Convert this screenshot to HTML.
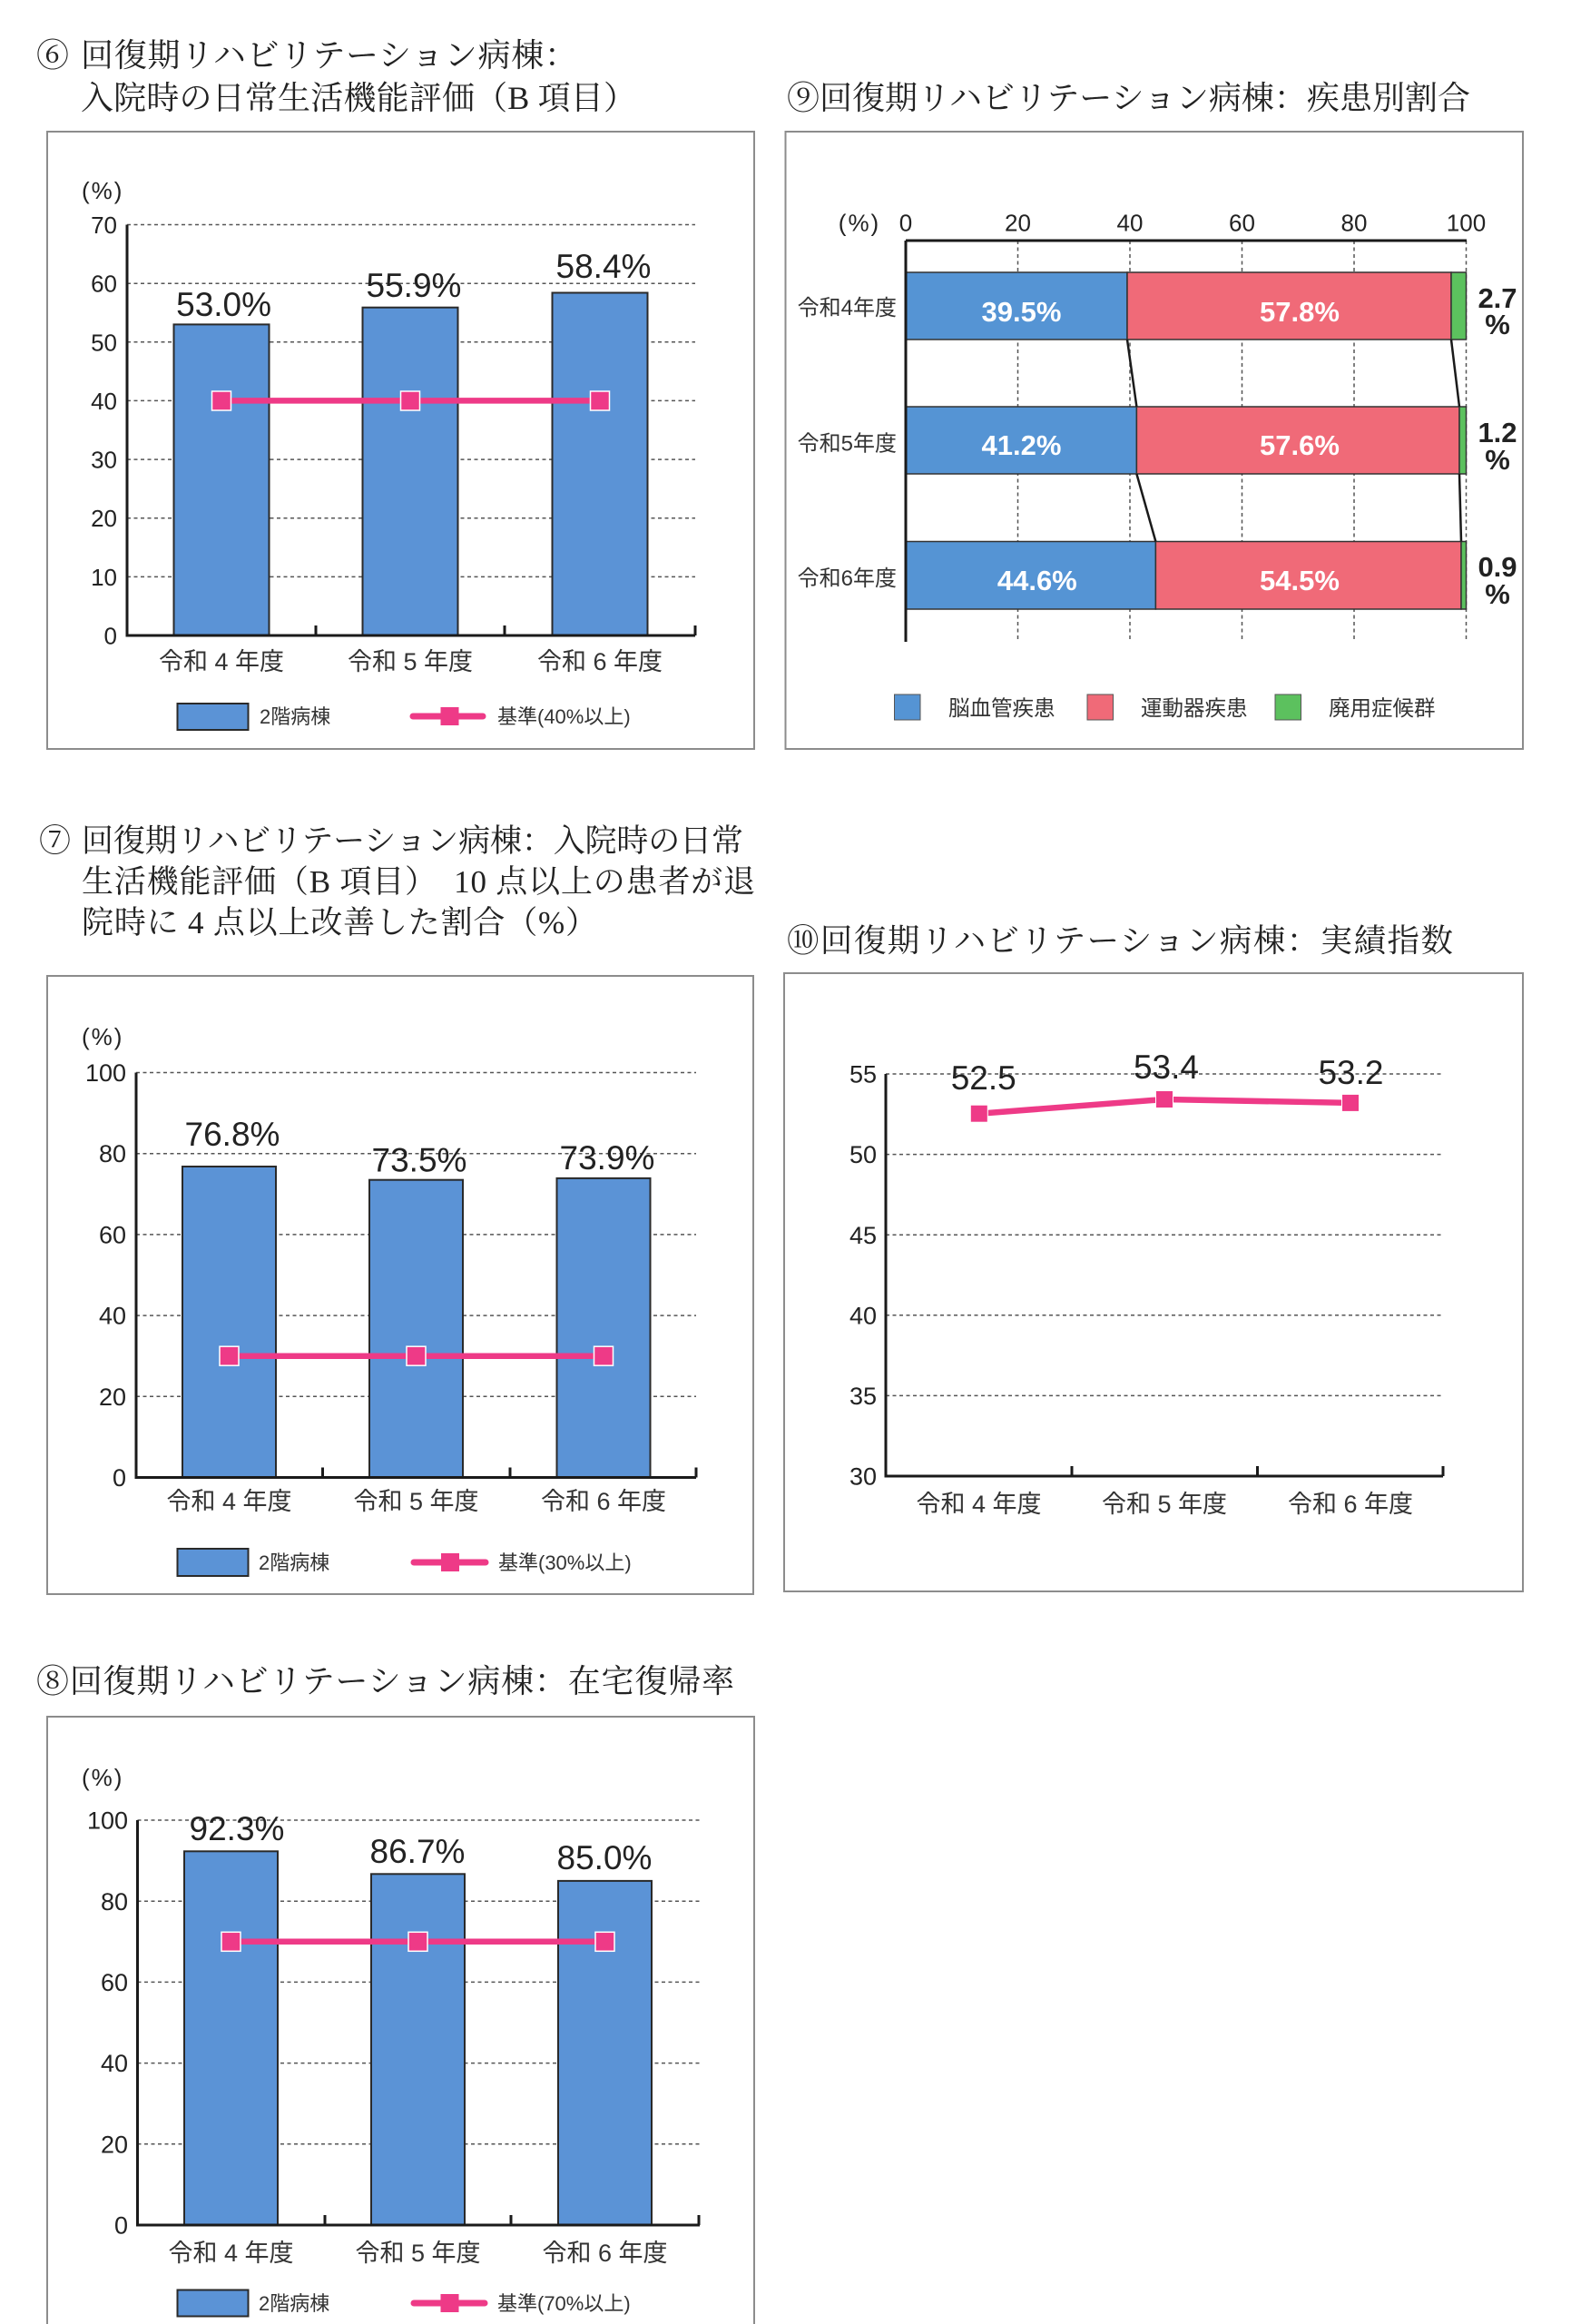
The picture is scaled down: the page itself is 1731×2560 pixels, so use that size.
<!DOCTYPE html>
<html><head><meta charset="utf-8"><style>
html,body{margin:0;padding:0;background:#fff;}
svg{display:block;}
.t{font-family:"Liberation Serif","Noto Serif CJK SC",serif;fill:#222;}
.n{font-family:"Liberation Sans","Noto Sans CJK JP",sans-serif;fill:#222;}
.j{font-family:"Liberation Sans","Noto Sans CJK JP",sans-serif;fill:#333;}
.w{font-family:"Liberation Sans",sans-serif;font-weight:bold;fill:#fff;}
.b{font-family:"Liberation Sans",sans-serif;font-weight:bold;fill:#222;}
.g{stroke:#555;stroke-width:1.5;stroke-dasharray:4 3.5;fill:none;}
.bar{fill:#5b93d6;stroke:#2a2a2a;stroke-width:2;}
.ax{stroke:#1a1a1a;stroke-width:3;fill:none;}
.pk{stroke:#ee3a87;stroke-width:6.5;fill:none;}
.mk{fill:#ee3a87;stroke:#fff;stroke-width:1.5;}
.fr{fill:none;stroke:#8c8c8c;stroke-width:2;}
</style></head><body>
<svg width="1731" height="2560" viewBox="0 0 1731 2560" xmlns="http://www.w3.org/2000/svg">

<!-- ================= Chart 6 ================= -->
<text class="t" x="40" y="73" font-size="36">⑥</text>
<text class="t" x="89" y="73" font-size="36" textLength="547" lengthAdjust="spacing">回復期リハビリテーション病棟：</text>
<text class="t" x="89" y="120" font-size="36" textLength="612" lengthAdjust="spacing">入院時の日常生活機能評価（B 項目）</text>
<rect class="fr" x="52" y="145" width="779" height="680"/>
<text class="n" x="90" y="219" font-size="26" letter-spacing="2">(%)</text>
<g>
<line class="g" x1="140" y1="635.4" x2="766" y2="635.4"/>
<line class="g" x1="140" y1="570.7" x2="766" y2="570.7"/>
<line class="g" x1="140" y1="506.1" x2="766" y2="506.1"/>
<line class="g" x1="140" y1="441.4" x2="766" y2="441.4"/>
<line class="g" x1="140" y1="376.8" x2="766" y2="376.8"/>
<line class="g" x1="140" y1="312.2" x2="766" y2="312.2"/>
<line class="g" x1="140" y1="247.5" x2="766" y2="247.5"/>
</g>
<g class="n" font-size="26" text-anchor="end">
<text x="129" y="709.5">0</text>
<text x="129" y="645">10</text>
<text x="129" y="580">20</text>
<text x="129" y="515.5">30</text>
<text x="129" y="451">40</text>
<text x="129" y="386.5">50</text>
<text x="129" y="321.5">60</text>
<text x="129" y="257">70</text>
</g>
<rect class="bar" x="191.5" y="357.4" width="105" height="342.6"/>
<rect class="bar" x="399.5" y="338.7" width="105" height="361.3"/>
<rect class="bar" x="608.5" y="322.5" width="105" height="377.5"/>
<path class="ax" d="M140 247.5 V700 H766 M348 700 V689 M556 700 V689 M766 700 V689"/>
<polyline class="pk" points="244,441.4 452,441.4 661,441.4"/>
<rect class="mk" x="233.5" y="431" width="21" height="21"/>
<rect class="mk" x="441.5" y="431" width="21" height="21"/>
<rect class="mk" x="650.5" y="431" width="21" height="21"/>
<g class="n" font-size="37" text-anchor="middle">
<text x="246.6" y="348">53.0%</text>
<text x="456" y="327">55.9%</text>
<text x="665" y="306">58.4%</text>
</g>
<g class="j" font-size="27" text-anchor="middle">
<text x="244" y="738">令和 4 年度</text>
<text x="452" y="738">令和 5 年度</text>
<text x="661" y="738">令和 6 年度</text>
</g>
<rect class="bar" x="195.5" y="775" width="78" height="29"/>
<text class="j" x="286" y="797" font-size="22">2階病棟</text>
<line x1="455" y1="789" x2="532" y2="789" stroke="#ee3a87" stroke-width="7" stroke-linecap="round"/>
<rect x="485.5" y="779" width="20" height="20" fill="#ee3a87"/>
<text class="j" x="548" y="797" font-size="22">基準(40%以上)</text>

<!-- ================= Chart 9 ================= -->
<text class="t" x="867" y="120" font-size="36" textLength="753" lengthAdjust="spacing">⑨回復期リハビリテーション病棟：疾患別割合</text>
<rect class="fr" x="865.5" y="145" width="812.5" height="680"/>
<g class="n" font-size="26" text-anchor="middle">
<text x="947" y="254.5" letter-spacing="2">(%)</text>
<text x="998" y="254.5">0</text>
<text x="1121.5" y="254.5">20</text>
<text x="1245" y="254.5">40</text>
<text x="1368.5" y="254.5">60</text>
<text x="1492" y="254.5">80</text>
<text x="1615.5" y="254.5">100</text>
</g>
<g>
<line class="g" x1="1121.5" y1="265" x2="1121.5" y2="707"/>
<line class="g" x1="1245" y1="265" x2="1245" y2="707"/>
<line class="g" x1="1368.5" y1="265" x2="1368.5" y2="707"/>
<line class="g" x1="1492" y1="265" x2="1492" y2="707"/>
<line class="g" x1="1615.5" y1="265" x2="1615.5" y2="707"/>
</g>
<g stroke="#333" stroke-width="1.5">
<rect x="998" y="300" width="244" height="74" fill="#5594d4"/>
<rect x="1242" y="300" width="357" height="74" fill="#f06a78"/>
<rect x="1599" y="300" width="16.5" height="74" fill="#5cc15e"/>
<rect x="998" y="448" width="254.4" height="74" fill="#5594d4"/>
<rect x="1252.4" y="448" width="355.6" height="74" fill="#f06a78"/>
<rect x="1608" y="448" width="7.5" height="74" fill="#5cc15e"/>
<rect x="998" y="596.5" width="275.4" height="74.5" fill="#5594d4"/>
<rect x="1273.4" y="596.5" width="336.6" height="74.5" fill="#f06a78"/>
<rect x="1610" y="596.5" width="5.5" height="74.5" fill="#5cc15e"/>
</g>
<path class="ax" d="M998 265 H1616 M998 265 V707"/>
<g stroke="#1a1a1a" stroke-width="2.5">
<line x1="1242" y1="374" x2="1252.4" y2="448"/>
<line x1="1599" y1="374" x2="1608" y2="448"/>
<line x1="1252.4" y1="522" x2="1273.4" y2="596.5"/>
<line x1="1608" y1="522" x2="1610" y2="596.5"/>
</g>
<g class="w" font-size="31" text-anchor="middle">
<text x="1125.5" y="354">39.5%</text>
<text x="1432" y="354">57.8%</text>
<text x="1125.5" y="501">41.2%</text>
<text x="1432" y="501">57.6%</text>
<text x="1142.8" y="650">44.6%</text>
<text x="1432" y="650">54.5%</text>
</g>
<g class="b" font-size="31" text-anchor="middle">
<text x="1650" y="339">2.7</text>
<text x="1650" y="368">%</text>
<text x="1650" y="487">1.2</text>
<text x="1650" y="517">%</text>
<text x="1650" y="635">0.9</text>
<text x="1650" y="665">%</text>
</g>
<g class="j" font-size="24" text-anchor="end">
<text x="988" y="347">令和4年度</text>
<text x="988" y="496.5">令和5年度</text>
<text x="988" y="645">令和6年度</text>
</g>
<rect x="985.5" y="765" width="28.5" height="28" fill="#5594d4" stroke="#555" stroke-width="1"/>
<rect x="1198" y="765" width="28.5" height="28" fill="#f06a78" stroke="#555" stroke-width="1"/>
<rect x="1405" y="765" width="28.5" height="28" fill="#5cc15e" stroke="#555" stroke-width="1"/>
<g class="j" font-size="23.5">
<text x="1045" y="788">脳血管疾患</text>
<text x="1257" y="788">運動器疾患</text>
<text x="1464" y="788">廃用症候群</text>
</g>

<!-- ================= Chart 7 ================= -->
<text class="t" x="43" y="938" font-size="35">⑦</text>
<text class="t" x="90" y="938" font-size="35" textLength="729" lengthAdjust="spacing">回復期リハビリテーション病棟：入院時の日常</text>
<text class="t" x="90" y="983" font-size="35" textLength="742" lengthAdjust="spacing">生活機能評価（B 項目）　10 点以上の患者が退</text>
<text class="t" x="90" y="1028" font-size="35" textLength="568" lengthAdjust="spacing">院時に 4 点以上改善した割合（%）</text>
<rect class="fr" x="52" y="1075" width="778" height="681"/>
<text class="n" x="90" y="1151" font-size="26" letter-spacing="2">(%)</text>
<g>
<line class="g" x1="150" y1="1538.3" x2="767" y2="1538.3"/>
<line class="g" x1="150" y1="1449.1" x2="767" y2="1449.1"/>
<line class="g" x1="150" y1="1359.9" x2="767" y2="1359.9"/>
<line class="g" x1="150" y1="1270.7" x2="767" y2="1270.7"/>
<line class="g" x1="150" y1="1181.5" x2="767" y2="1181.5"/>
</g>
<g class="n" font-size="27" text-anchor="end">
<text x="139" y="1637">0</text>
<text x="139" y="1548">20</text>
<text x="139" y="1458.5">40</text>
<text x="139" y="1369.5">60</text>
<text x="139" y="1280">80</text>
<text x="139" y="1191">100</text>
</g>
<rect class="bar" x="201" y="1285" width="103" height="342.5"/>
<rect class="bar" x="407" y="1299.7" width="103" height="327.8"/>
<rect class="bar" x="613.5" y="1297.9" width="103" height="329.6"/>
<path class="ax" d="M150 1181.5 V1627.5 H767 M355.5 1627.5 V1616.5 M562 1627.5 V1616.5 M767 1627.5 V1616.5"/>
<polyline class="pk" points="252.5,1493.7 458.5,1493.7 665,1493.7"/>
<rect class="mk" x="242" y="1483.2" width="21" height="21"/>
<rect class="mk" x="448" y="1483.2" width="21" height="21"/>
<rect class="mk" x="654.5" y="1483.2" width="21" height="21"/>
<g class="n" font-size="37" text-anchor="middle">
<text x="256" y="1262">76.8%</text>
<text x="462" y="1290.5">73.5%</text>
<text x="669" y="1288">73.9%</text>
</g>
<g class="j" font-size="27" text-anchor="middle">
<text x="252.5" y="1663">令和 4 年度</text>
<text x="458.5" y="1663">令和 5 年度</text>
<text x="665" y="1663">令和 6 年度</text>
</g>
<rect class="bar" x="195.5" y="1706" width="78" height="30"/>
<text class="j" x="285" y="1729" font-size="22">2階病棟</text>
<line x1="456" y1="1721" x2="535" y2="1721" stroke="#ee3a87" stroke-width="7" stroke-linecap="round"/>
<rect x="486" y="1711" width="20" height="20" fill="#ee3a87"/>
<text class="j" x="549" y="1729" font-size="22">基準(30%以上)</text>

<!-- ================= Chart 10 ================= -->
<text class="t" x="867" y="1048" font-size="35.5" textLength="734" lengthAdjust="spacing">⑩回復期リハビリテーション病棟：実績指数</text>
<rect class="fr" x="864" y="1072" width="814" height="681"/>
<g>
<line class="g" x1="976" y1="1537.4" x2="1590" y2="1537.4"/>
<line class="g" x1="976" y1="1448.8" x2="1590" y2="1448.8"/>
<line class="g" x1="976" y1="1360.2" x2="1590" y2="1360.2"/>
<line class="g" x1="976" y1="1271.6" x2="1590" y2="1271.6"/>
<line class="g" x1="976" y1="1183" x2="1590" y2="1183"/>
</g>
<g class="n" font-size="27" text-anchor="end">
<text x="966" y="1635.5">30</text>
<text x="966" y="1547">35</text>
<text x="966" y="1458.5">40</text>
<text x="966" y="1370">45</text>
<text x="966" y="1281">50</text>
<text x="966" y="1192.5">55</text>
</g>
<path class="ax" d="M976 1183 V1626 H1590 M1181 1626 V1615 M1385.5 1626 V1615 M1590 1626 V1615"/>
<polyline class="pk" points="1078.8,1226.7 1283,1211 1488,1214.9"/>
<rect x="1069.3" y="1217.2" width="19" height="19" fill="#ee3a87" stroke="#fff" stroke-width="1"/>
<rect x="1273.5" y="1201.5" width="19" height="19" fill="#ee3a87" stroke="#fff" stroke-width="1"/>
<rect x="1478.5" y="1205.4" width="19" height="19" fill="#ee3a87" stroke="#fff" stroke-width="1"/>
<g class="n" font-size="37" text-anchor="middle">
<text x="1083.7" y="1200">52.5</text>
<text x="1285" y="1188">53.4</text>
<text x="1488.5" y="1194">53.2</text>
</g>
<g class="j" font-size="27" text-anchor="middle">
<text x="1078.5" y="1666">令和 4 年度</text>
<text x="1283" y="1666">令和 5 年度</text>
<text x="1488" y="1666">令和 6 年度</text>
</g>

<!-- ================= Chart 8 ================= -->
<text class="t" x="40" y="1864" font-size="36" textLength="769" lengthAdjust="spacing">⑧回復期リハビリテーション病棟：在宅復帰率</text>
<path class="fr" d="M52 2565 V1891 H831 V2565"/>
<text class="n" x="90" y="1967" font-size="26" letter-spacing="2">(%)</text>
<g>
<line class="g" x1="151.5" y1="2361.8" x2="771" y2="2361.8"/>
<line class="g" x1="151.5" y1="2272.6" x2="771" y2="2272.6"/>
<line class="g" x1="151.5" y1="2183.4" x2="771" y2="2183.4"/>
<line class="g" x1="151.5" y1="2094.2" x2="771" y2="2094.2"/>
<line class="g" x1="151.5" y1="2005" x2="771" y2="2005"/>
</g>
<g class="n" font-size="27" text-anchor="end">
<text x="141" y="2460.5">0</text>
<text x="141" y="2371.5">20</text>
<text x="141" y="2282">40</text>
<text x="141" y="2193">60</text>
<text x="141" y="2104">80</text>
<text x="141" y="2014.5">100</text>
</g>
<rect class="bar" x="203" y="2039.3" width="103" height="411.7"/>
<rect class="bar" x="409" y="2064.3" width="103" height="386.7"/>
<rect class="bar" x="615" y="2071.9" width="103" height="379.1"/>
<path class="ax" d="M151.5 2005 V2451 H771 M358 2451 V2440 M563 2451 V2440 M770 2451 V2440"/>
<polyline class="pk" points="254.5,2138.8 460.5,2138.8 666.5,2138.8"/>
<rect class="mk" x="244" y="2128.3" width="21" height="21"/>
<rect class="mk" x="450" y="2128.3" width="21" height="21"/>
<rect class="mk" x="656" y="2128.3" width="21" height="21"/>
<g class="n" font-size="37" text-anchor="middle">
<text x="261" y="2027">92.3%</text>
<text x="460" y="2052">86.7%</text>
<text x="666" y="2059">85.0%</text>
</g>
<g class="j" font-size="27" text-anchor="middle">
<text x="254.5" y="2491">令和 4 年度</text>
<text x="460.5" y="2491">令和 5 年度</text>
<text x="666.5" y="2491">令和 6 年度</text>
</g>
<rect class="bar" x="195.5" y="2522.5" width="78" height="29"/>
<text class="j" x="285" y="2545" font-size="22">2階病棟</text>
<line x1="456" y1="2537" x2="534" y2="2537" stroke="#ee3a87" stroke-width="7" stroke-linecap="round"/>
<rect x="485.5" y="2527" width="20" height="20" fill="#ee3a87"/>
<text class="j" x="548" y="2545" font-size="22">基準(70%以上)</text>

</svg>
</body></html>
